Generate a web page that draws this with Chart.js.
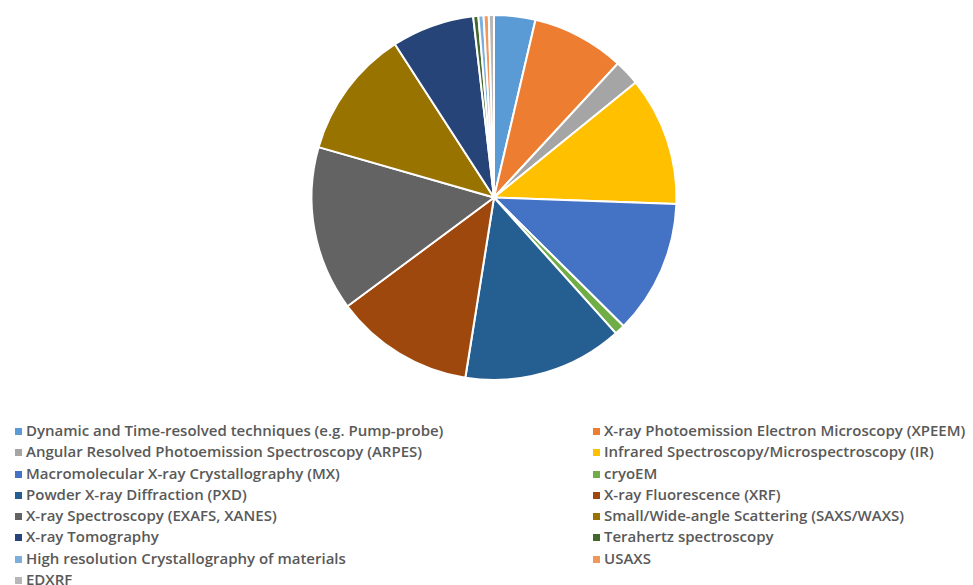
<!DOCTYPE html>
<html>
<head>
<meta charset="utf-8">
<script src="https://cdn.jsdelivr.net/npm/chart.js@4/dist/chart.umd.min.js"></script>
<style>
  html, body { margin: 0; padding: 0; background: #fff; }
  #wrap { position: relative; width: 973px; height: 585px; overflow: hidden; }
  #pieWrap { position: absolute; left: 0; top: 0; width: 973px; height: 395px; }
  #legend {
    position: absolute; left: 15px; top: 420px; width: 958px;
    display: grid; grid-template-columns: 578px 380px;
    font-family: "Open Sans", sans-serif; font-weight: 600; font-size: 15px;
    color: #595959;
  }
  .item { height: 21.3px; line-height: 21.3px; white-space: nowrap; }
  .box { display: inline-block; width: 7px; height: 7px; margin-right: 4px; vertical-align: 1px; }
</style>
</head>
<body>
<div id="wrap">
  <div id="pieWrap"><canvas id="techniquePie"></canvas></div>
  <div id="legend"></div>
</div>
<script>
// techniques as listed in the legend, read left to right
const techniques = [
  "Dynamic and Time-resolved techniques (e.g. Pump-probe)",
  "X-ray Photoemission Electron Microscopy (XPEEM)",
  "Angular Resolved Photoemission Spectroscopy (ARPES)",
  "Infrared Spectroscopy/Microspectroscopy (IR)",
  "Macromolecular X-ray Crystallography (MX)",
  "cryoEM",
  "Powder X-ray Diffraction (PXD)",
  "X-ray Fluorescence (XRF)",
  "X-ray Spectroscopy (EXAFS, XANES)",
  "Small/Wide-angle Scattering (SAXS/WAXS)",
  "X-ray Tomography",
  "Terahertz spectroscopy",
  "High resolution Crystallography of materials",
  "USAXS",
  "EDXRF",
];

const responses = [8, 18, 5, 25, 26, 2, 31, 27, 32, 25, 16, 1, 1, 1, 1];

const sliceColors = [
  "#5B9BD5", "#ED7D31", "#A5A5A5", "#FFC000", "#4472C4",
  "#70AD47", "#255E91", "#9E480E", "#636363", "#997300",
  "#264478", "#43682B", "#7CAFDD", "#F1975A", "#B7B7B7",
];

const ctx = document.getElementById("techniquePie").getContext("2d");

// legend built as html so it can sit in two aligned columns
const htmlLegend = {
  id: "htmlLegend",
  afterUpdate(chart) {
    const box = document.getElementById("legend");
    box.innerHTML = "";
    const items = chart.options.plugins.legend.labels.generateLabels(chart);
    items.forEach((it) => {
      const row = document.createElement("div");
      row.className = "item";
      const sw = document.createElement("span");
      sw.className = "box";
      sw.style.background = it.fillStyle;
      row.appendChild(sw);
      row.appendChild(document.createTextNode(it.text));
      box.appendChild(row);
    });
  },
};

const config = {
  type: "pie",
  data: {
    labels: techniques,
    datasets: [
      {
        data: responses,
        backgroundColor: sliceColors,
        borderColor: "#ffffff",
        borderWidth: 2,
        hoverOffset: 0,
      },
    ],
  },
  options: {
    responsive: true,
    maintainAspectRatio: false,
    animation: false,
    layout: { padding: { top: 14, bottom: 14, left: 15, right: 0 } },
    plugins: {
      legend: { display: false },
      tooltip: { enabled: false },
    },
  },
  plugins: [htmlLegend],
};

new Chart(ctx, config);
</script>
</body>
</html>
